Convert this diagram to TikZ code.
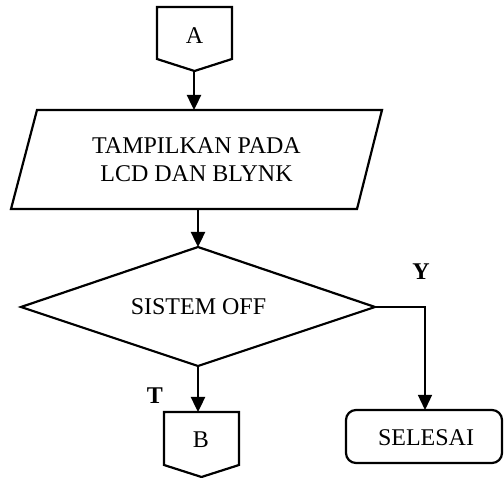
\documentclass[tikz,border=0pt]{standalone}
\usepackage{fontspec}
\setmainfont{Liberation Serif}
\usetikzlibrary{arrows.meta}
\begin{document}
\begin{tikzpicture}[x=1pt,y=-1pt, line join=miter,
  outline/.style={line width=2.2pt},
  arr/.style={line width=2.4pt,-{Triangle[length=15pt,width=14pt]}},
  thinarr/.style={line width=1.3pt,-{Triangle[length=15pt,width=14pt]}},
  lbl/.style={font=\fontsize{24}{28}\selectfont, align=center, inner sep=0pt},
  conlbl/.style={font=\fontsize{24}{28}\selectfont, inner sep=0pt},
  yt/.style={font=\fontsize{24}{28}\selectfont\bfseries, inner sep=0pt}]
\useasboundingbox (0,0) rectangle (504,478);
% connector A
\draw[outline] (157,7) -- (232,7) -- (232,59) -- (194.5,71) -- (157,59) -- cycle;
\node[conlbl] (A) at (194.5,36) {A};
\coordinate (Abot) at (194,71);
% parallelogram
\draw[outline] (37,110) -- (382,110) -- (357,209) -- (11,209) -- cycle;
\node[lbl] (P) at (196.5,160) {TAMPILKAN PADA\\LCD DAN BLYNK};
\coordinate (Ptop) at (194,110);
\coordinate (Pbot) at (198,209);
% decision
\draw[outline] (198,247) -- (375,307) -- (198,366) -- (21,307) -- cycle;
\node[lbl] (D) at (198.5,307) {SISTEM OFF};
\coordinate (Dtop) at (198,247);
\coordinate (Dbot) at (198,366);
\coordinate (Dright) at (375,307);
\coordinate (Dcorner) at (425,307);
% selesai
\draw[outline, rounded corners=10pt] (346,410) rectangle (502,463);
\node[lbl] (S) at (426,438) {SELESAI};
\coordinate (Stop) at (425,410);
% connector B
\draw[outline] (164,412) -- (239,412) -- (239,465) -- (201.5,477) -- (164,465) -- cycle;
\node[conlbl] (B) at (201,440) {B};
\coordinate (Btop) at (198,412);
% labels
\node[yt] (Y) at (421,272) {Y};
\node[yt] (T) at (155,395.5) {T};
% connectors
\draw[arr] (Abot) -- (Ptop);
\draw[arr] (Pbot) -- (Dtop);
\draw[arr] (Dbot) -- (Btop);
\draw[thinarr] (Dright) -- (Dcorner) -- (Stop);
\end{tikzpicture}
\end{document}
